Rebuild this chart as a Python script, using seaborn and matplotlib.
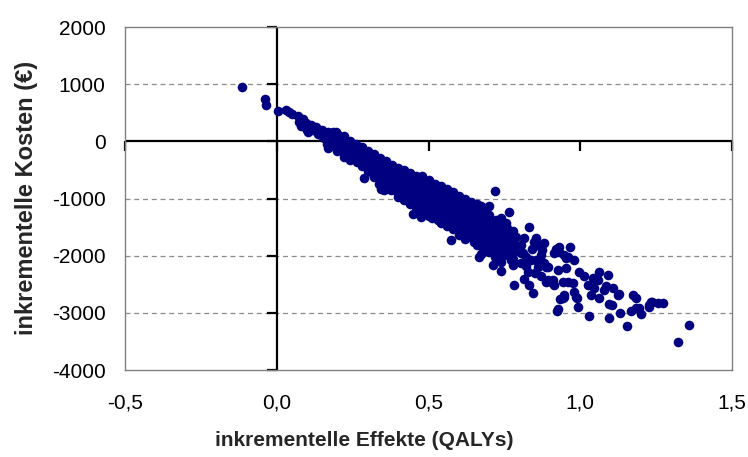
import matplotlib
matplotlib.use("Agg")
import matplotlib.pyplot as plt
import seaborn as sns
import pandas as pd

# ---- data (incremental effects in QALYs, incremental costs in EUR) ----
seg_a = [(-0.115, 950), (-0.04, 740), (-0.036, 635), (0.003, 530), (0.03, 545),
         (0.04, 510), (0.05, 470), (0.07, 445), (0.072, 330), (0.08, 270),
         (0.086, 390), (0.089, 285), (0.096, 318), (0.10, 200), (0.102, 161),
         (0.112, 283), (0.12, 200), (0.13, 250), (0.135, 120), (0.145, 110),
         (0.15, 200), (0.155, 58), (0.16, 150), (0.165, -40), (0.168, 162),
         (0.168, -117), (0.17, 40), (0.175, 100), (0.18, -10), (0.185, 160),
         (0.188, 60), (0.19, -80), (0.194, 162), (0.195, 20), (0.198, 120)]

seg_b = [(0.20, 130), (0.20, 30), (0.201, -70), (0.20, -170),
         (0.21, 58), (0.22, 90), (0.221, -10), (0.22, -110), (0.222, -200), (0.22, -280),
         (0.24, 10), (0.242, -80), (0.24, -170), (0.238, -260), (0.241, -330),
         (0.26, -50), (0.262, -140), (0.259, -230), (0.26, -300), (0.263, -370),
         (0.28, -100), (0.279, -190), (0.281, -280), (0.28, -360), (0.282, -430),
         (0.287, -640),
         (0.30, -170), (0.301, -250), (0.299, -340), (0.30, -430), (0.302, -520),
         (0.32, -220), (0.319, -310), (0.321, -400), (0.32, -490), (0.318, -580), (0.322, -630),
         (0.34, -290), (0.341, -380), (0.339, -470), (0.34, -560), (0.342, -650), (0.338, -740),
         (0.343, -835), (0.353, -850),
         (0.36, -350), (0.361, -440), (0.359, -530), (0.36, -620), (0.362, -710), (0.358, -800),
         (0.38, -410), (0.381, -500), (0.379, -590), (0.38, -680), (0.382, -770), (0.378, -860)]

seg_c = [(0.40, -470), (0.401, -560), (0.399, -650), (0.40, -740), (0.402, -830), (0.398, -920), (0.40, -975),
         (0.42, -510), (0.421, -600), (0.419, -690), (0.42, -780), (0.422, -870), (0.418, -960), (0.42, -1030),
         (0.44, -550), (0.441, -640), (0.439, -730), (0.44, -820), (0.442, -910), (0.438, -1000), (0.44, -1090),
         (0.448, -1270),
         (0.46, -600), (0.461, -690), (0.459, -780), (0.46, -870), (0.462, -960), (0.458, -1050), (0.46, -1140), (0.461, -1200),
         (0.48, -600), (0.481, -740), (0.479, -830), (0.48, -920), (0.482, -1010), (0.478, -1100), (0.48, -1190), (0.481, -1260),
         (0.475, -1330),
         (0.50, -680), (0.501, -790), (0.499, -880), (0.50, -970), (0.502, -1060), (0.498, -1150), (0.50, -1240), (0.501, -1300),
         (0.51, -1345),
         (0.52, -740), (0.521, -830), (0.519, -920), (0.52, -1010), (0.522, -1100), (0.518, -1190), (0.52, -1280), (0.53, -1375),
         (0.54, -790), (0.541, -890), (0.539, -980), (0.54, -1070), (0.542, -1160), (0.538, -1250), (0.54, -1340), (0.541, -1420),
         (0.56, -840), (0.561, -940), (0.559, -1030), (0.56, -1120), (0.562, -1210), (0.558, -1300), (0.56, -1390), (0.561, -1480),
         (0.573, -1726),
         (0.58, -880), (0.581, -990), (0.579, -1080), (0.58, -1170), (0.582, -1260), (0.578, -1350), (0.58, -1440), (0.581, -1540)]

seg_d = [(0.60, -950), (0.601, -1040), (0.599, -1130), (0.60, -1220), (0.602, -1310), (0.598, -1400), (0.60, -1490), (0.601, -1580), (0.60, -1630),
         (0.62, -1000), (0.621, -1090), (0.619, -1180), (0.62, -1270), (0.622, -1360), (0.618, -1450), (0.62, -1540), (0.621, -1630), (0.62, -1700),
         (0.639, -1061), (0.641, -1140), (0.639, -1230), (0.64, -1320), (0.642, -1410), (0.638, -1500), (0.64, -1590), (0.641, -1680), (0.65, -1760),
         (0.66, -1090), (0.661, -1180), (0.659, -1270), (0.66, -1360), (0.662, -1450), (0.658, -1540), (0.66, -1630), (0.661, -1720), (0.66, -1820), (0.666, -2024),
         (0.672, -1131), (0.68, -1230), (0.679, -1320), (0.68, -1410), (0.682, -1500), (0.678, -1590), (0.68, -1680), (0.681, -1770), (0.672, -1970), (0.68, -1870),
         (0.699, -1131), (0.70, -1290), (0.695, -1324), (0.70, -1470), (0.702, -1560), (0.698, -1650), (0.70, -1740), (0.701, -1830), (0.70, -1930),
         (0.712, -2164), (0.718, -869),
         (0.722, -1376), (0.72, -1450), (0.722, -1551), (0.72, -1640), (0.718, -1730), (0.72, -1820), (0.721, -1920), (0.72, -2020),
         (0.738, -1726), (0.738, -2111), (0.738, -2269),
         (0.74, -1340), (0.741, -1430), (0.739, -1520), (0.74, -1610), (0.742, -1800), (0.74, -1900), (0.741, -2000),
         (0.754, -1429), (0.764, -1236), (0.76, -1510), (0.764, -1639), (0.76, -1700), (0.761, -1790), (0.76, -1890), (0.759, -1990), (0.771, -2076),
         (0.78, -1560), (0.787, -1674), (0.78, -1760), (0.781, -1850), (0.78, -1950), (0.779, -2050), (0.78, -2160), (0.781, -2513)]

seg_e = [(0.804, -1814), (0.804, -1953), (0.804, -2129), (0.81, -1950), (0.814, -1691), (0.815, -2400),
         (0.82, -2030), (0.82, -2180), (0.827, -2286), (0.830, -1499), (0.830, -2513), (0.837, -2076),
         (0.84, -1880), (0.843, -2653), (0.847, -1761), (0.85, -2300), (0.853, -1691), (0.853, -2076),
         (0.86, -1820), (0.860, -2199), (0.863, -2076), (0.87, -2350), (0.870, -1989), (0.875, -1900),
         (0.880, -1779), (0.880, -2129), (0.886, -2199), (0.886, -2461), (0.893, -2199), (0.893, -2426),
         (0.903, -2461), (0.909, -2426), (0.913, -2513), (0.913, -1953), (0.919, -1884), (0.923, -2968),
         (0.926, -2251), (0.926, -2933), (0.929, -1849), (0.929, -1936), (0.932, -2758), (0.942, -2461),
         (0.942, -2741), (0.946, -2723), (0.946, -2688), (0.946, -1989), (0.952, -2216), (0.952, -2041),
         (0.959, -2024), (0.959, -2461), (0.965, -1849), (0.975, -2478), (0.979, -2076), (0.979, -2636),
         (0.985, -2723), (0.988, -2741), (0.992, -2898), (0.995, -2286), (1.012, -2356), (1.025, -2513),
         (1.028, -3055), (1.035, -2688), (1.041, -2391), (1.044, -2566), (1.051, -2426), (1.058, -2426),
         (1.061, -2286), (1.061, -2741), (1.077, -2601), (1.084, -2531), (1.091, -2339), (1.094, -2846),
         (1.094, -3090), (1.104, -2863), (1.107, -2566), (1.124, -2688), (1.127, -2671), (1.130, -3003),
         (1.153, -3231), (1.166, -2968), (1.173, -2688), (1.183, -2741), (1.183, -2916), (1.193, -2916),
         (1.199, -3020), (1.226, -2863), (1.226, -2898), (1.232, -2811), (1.236, -2811), (1.255, -2828),
         (1.272, -2828), (1.321, -3510), (1.357, -3213)]

x_ticks = [-0.5, 0.0, 0.5, 1.0, 1.5]
x_tick_labels = ["-0,5", "0,0", "0,5", "1,0", "1,5"]
y_ticks = [2000, 1000, 0, -1000, -2000, -3000, -4000]
y_tick_labels = ["2000", "1000", "0", "-1000", "-2000", "-3000", "-4000"]
x_label = "inkrementelle Effekte (QALYs)"
y_label = "inkrementelle Kosten (€)"

points = seg_a + seg_b + seg_c + seg_d + seg_e
df = pd.DataFrame(points, columns=["effekt", "kosten"])

sns.set_theme(style="white")
plt.rcParams["font.family"] = ["Liberation Sans", "DejaVu Sans"]

W, H = 748, 457
fig = plt.figure(figsize=(W / 100, H / 100), dpi=100)
ax = fig.add_axes([125 / W, 1 - 370 / H, (732 - 125) / W, (370 - 27) / H])

# dashed grid
for yv in y_ticks[1:-1]:
    if yv != 0:
        ax.axhline(yv, color="#8c8c8c", lw=0.9, ls=(0, (4, 3)), zorder=0)

sns.scatterplot(data=df, x="effekt", y="kosten", ax=ax, color="#000080",
                s=48, linewidth=0, zorder=3, legend=False)

# cross axes at zero
ax.axhline(0, color="black", lw=1.6, zorder=2)
ax.axvline(0, color="black", lw=1.6, zorder=2)
ax.plot(x_ticks, [0] * len(x_ticks), ls="none", marker=3, markersize=7,
        mew=1.6, color="black", zorder=2, clip_on=False)
ax.plot([0] * len(y_ticks), y_ticks, ls="none", marker=0, markersize=7,
        mew=1.6, color="black", zorder=2, clip_on=False)

ax.set_xlim(-0.5, 1.5)
ax.set_ylim(-4000, 2000)
ax.set_xticks(x_ticks)
ax.set_xticklabels(x_tick_labels)
ax.set_yticks(y_ticks)
ax.set_yticklabels(y_tick_labels)
ax.tick_params(axis="x", length=0, pad=17, labelsize=15, colors="black")
ax.tick_params(axis="y", length=0, pad=14, labelsize=15, colors="black")
ax.set_xlabel("")
ax.set_ylabel("")

for sp in ax.spines.values():
    sp.set_color("#808080")
    sp.set_linewidth(1.0)
    sp.set_visible(True)

fig.text(364 / W, 1 - 440 / H, x_label, ha="center", va="center",
         fontsize=15, fontweight="bold")
fig.text(27 / W, 1 - 198 / H, y_label, ha="center", va="center",
         rotation=90, fontsize=17, fontweight="bold")

fig.savefig("out.png", dpi=100)
